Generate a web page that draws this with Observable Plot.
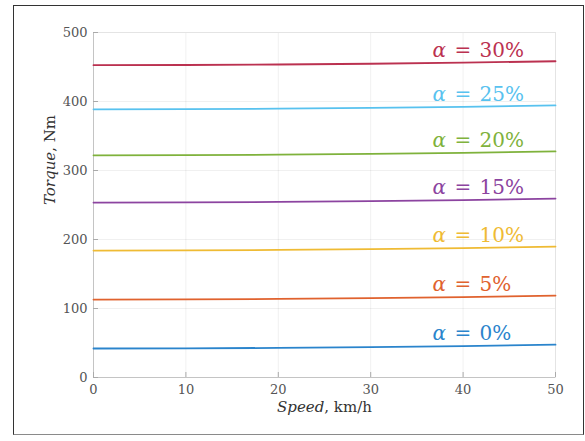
<!DOCTYPE html>
<html><head><meta charset="utf-8">
<script src="https://cdn.jsdelivr.net/npm/d3@7"></script>
<script src="https://cdn.jsdelivr.net/npm/@observablehq/plot@0.6"></script>
<style>
body{margin:0;background:#fff}
#wrap{position:relative;width:585px;height:441px}
#border{position:absolute;left:13px;top:5px;width:569px;height:428px;border:1.5px solid #333;border-bottom-color:#8a8a8a;pointer-events:none}
#wrap svg text{font-family:"DejaVu Serif", serif !important}
</style></head><body><div id="wrap"><div id="border"></div></div>
<script>
const speeds = [0, 10, 20, 30, 40, 50];
const grades = ["0%", "5%", "10%", "15%", "20%", "25%", "30%"];
const torque0 = [42.0, 42.2, 42.9, 44.0, 45.5, 47.5];
const torque5 = [113.0, 113.2, 113.9, 115.0, 116.6, 118.7];
const torque10 = [184.0, 184.2, 184.9, 186.0, 187.6, 189.7];
const torque15 = [253.5, 253.7, 254.4, 255.5, 257.1, 259.3];
const torque20 = [322.0, 322.2, 322.9, 324.0, 325.6, 327.7];
const torque25 = [388.7, 388.9, 389.6, 390.7, 392.3, 394.3];
const torque30 = [452.7, 452.9, 453.6, 454.7, 456.3, 458.3];
const seriesValues = [torque0, torque5, torque10, torque15, torque20, torque25, torque30];
const colors = ["#2a84cc", "#e0622e", "#efbb34", "#8c44a0", "#7fb23c", "#58c2ef", "#bb3150"];
const xTicks = [0, 10, 20, 30, 40, 50];
const yTicks = [0, 100, 200, 300, 400, 500];
const labelSpeed = 36.7;

const rows = [];
grades.forEach((g, i) => speeds.forEach((s, j) => rows.push({grade: g, speed: s, torque: seriesValues[i][j], color: colors[i]})));
const labels = grades.map((g, i) => ({text: "α = " + g, torque: seriesValues[i][4], color: colors[i]}));

const serif = "DejaVu Serif";
const chart = Plot.plot({
  width: 585, height: 441,
  marginLeft: 93, marginRight: 30, marginTop: 32, marginBottom: 64,
  x: {domain: [0, 50]},
  y: {domain: [0, 500]},
  style: {fontFamily: serif, fontSize: "13px", color: "#555", background: "transparent"},
  marks: [
    Plot.ruleX(xTicks, {x: d => d, stroke: "#000", strokeOpacity: 0.06}),
    Plot.ruleY(yTicks, {y: d => d, stroke: "#000", strokeOpacity: 0.06}),
    Plot.frame({stroke: "#e4e4e4"}),
    Plot.ruleX([0], {stroke: "#c4c4c4"}),
    Plot.ruleY([0], {stroke: "#c4c4c4"}),
    Plot.axisX(xTicks, {tickSize: -5, tickPadding: 12, stroke: "#aaa", fill: "#555", fontSize: 13, label: null}),
    Plot.axisY(yTicks, {tickSize: -5, tickPadding: 11, stroke: "#aaa", fill: "#555", fontSize: 13, label: null}),
    Plot.line(rows, {x: "speed", y: "torque", z: "grade", stroke: "color", strokeWidth: 1.8}),
    Plot.text(labels, {x: () => labelSpeed, y: "torque", text: "text", fill: "color", textAnchor: "start", lineAnchor: "bottom", dy: -6, fontSize: 20, fontFamily: serif}),
    Plot.text(["Torque, Nm"], {frameAnchor: "left", rotate: -90, dx: -43, fontSize: 15, fill: "#333", fontFamily: serif}),
    Plot.text(["Speed, km/h"], {frameAnchor: "bottom", dy: 34, fontSize: 15, fill: "#333", fontFamily: serif})
  ]
});
document.getElementById("wrap").prepend(chart);

d3.select(chart).selectAll("text").each(function() {
  const t = this.textContent;
  const sel = d3.select(this);
  if (t.startsWith("α")) {
    sel.text(null).attr("word-spacing", "2px");
    sel.append("tspan").attr("font-style", "italic").text("α");
    sel.append("tspan").text(t.slice(1));
  } else if (t === "Torque, Nm" || t === "Speed, km/h") {
    const parts = t.split(",");
    sel.text(null);
    sel.append("tspan").attr("font-style", "italic").text(parts[0]);
    sel.append("tspan").text("," + parts[1]);
  }
});
</script></body></html>
